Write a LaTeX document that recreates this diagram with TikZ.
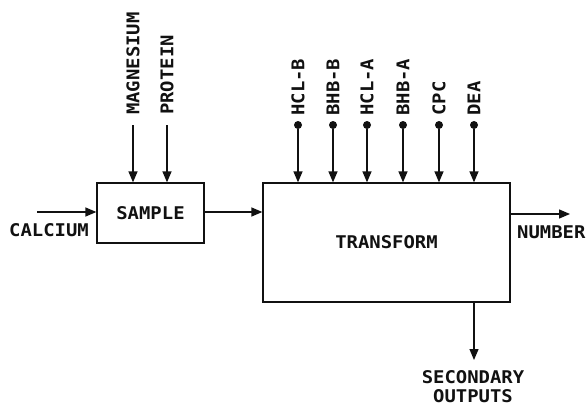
\documentclass[tikz,border=0pt]{standalone}
\usepackage{fontspec}
\usepackage{tikz}
\usetikzlibrary{arrows.meta,positioning}
\newfontfamily\plotfont{DejaVu Sans Mono}[FakeStretch=1.08]
\definecolor{ink}{HTML}{111111}

\begin{document}
\begin{tikzpicture}[x=1pt,y=1pt,
    lbl/.style={font=\plotfont\bfseries\fontsize{17.5}{19}\selectfont, text=ink, inner sep=0pt},
    vlbl/.style={lbl, rotate=90, anchor=west},
    blk/.style={draw=ink, line width=1.3pt, fill=white},
    flow/.style={draw=ink, line width=1.3pt, -{Triangle[length=11pt,width=9pt]}},
    feed/.style={circle, fill=ink, inner sep=0pt, minimum size=8pt}]
  \useasboundingbox (0,0) rectangle (588,408);

  % blocks
  \node[blk, minimum width=107pt, minimum height=60pt] (sample) at (150.5,195) {};
  \node[lbl] (sampleLbl) at (sample.center) {SAMPLE};
  \node[blk, minimum width=247pt, minimum height=119pt] (transform) at (386.5,165.5) {};
  \node[lbl] (transformLbl) at (transform.center) {TRANSFORM};

  % sample inputs
  \coordinate (calIn) at (37,196);
  \draw[flow] (calIn) -- (calIn -| sample.west);
  \node[lbl] (calcium) at (49,178) {CALCIUM};
  \foreach \x/\name/\txt in {133/mg/MAGNESIUM, 167/prot/PROTEIN} {
    \coordinate (\name In) at (\x,283);
    \node[vlbl] (\name Lbl) at ([yshift=10pt]\name In) {\txt};
    \draw[flow] (\name In) -- (\name In |- sample.north);
  }
  \draw[flow] (sample.east |- calIn) -- (calIn -| transform.west);

  % reagent feeds
  \foreach \x/\name/\txt in {298/hclb/HCL-B, 333/bhbb/BHB-B, 367/hcla/HCL-A,
                             403/bhba/BHB-A, 439/cpc/CPC, 474/dea/DEA} {
    \node[feed] (\name) at (\x,283) {};
    \node[vlbl] (\name Lbl) at ([yshift=5pt]\name.north) {\txt};
    \draw[flow] (\name) -- (\name |- transform.north);
  }

  % outputs
  \coordinate (numOut) at (570,194);
  \draw[flow] (numOut -| transform.east) -- (numOut);
  \node[lbl, anchor=west] (number) at (517,176) {NUMBER};
  \coordinate (secOut) at (474,48);
  \draw[flow] (secOut |- transform.south) -- (secOut);
  \node[lbl, align=center] (secondary) at (473,21) {SECONDARY\\OUTPUTS};
\end{tikzpicture}
\end{document}
